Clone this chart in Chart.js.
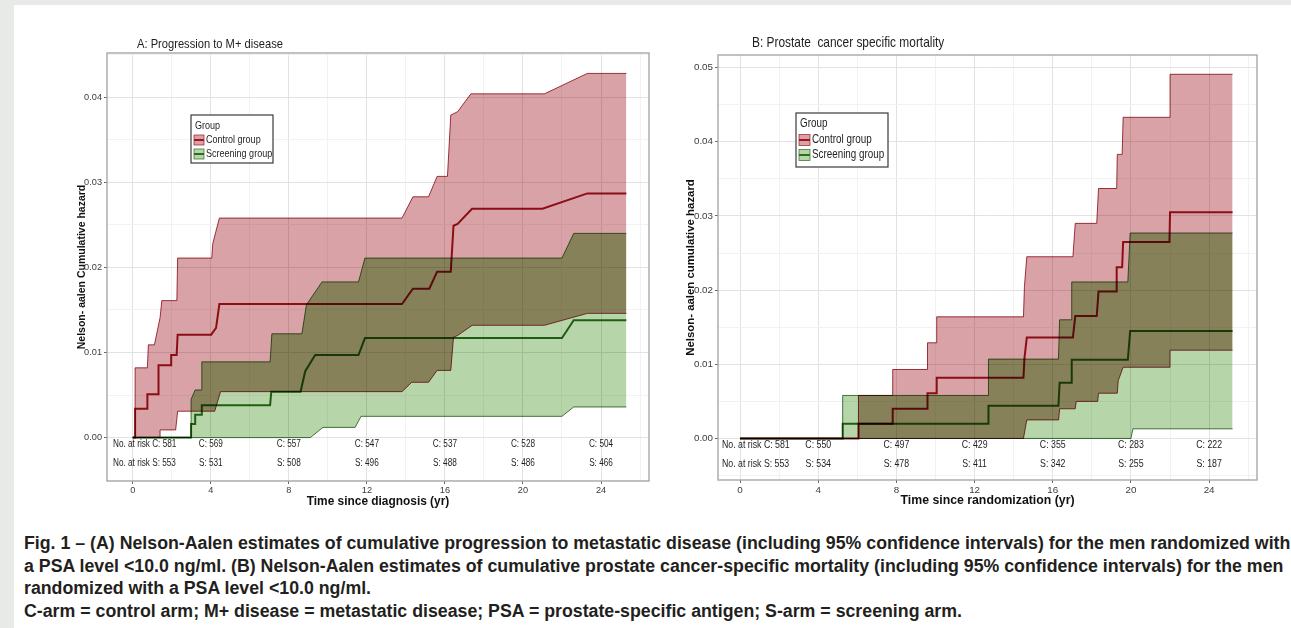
<!DOCTYPE html>
<html>
<head>
<meta charset="utf-8">
<script src="https://cdn.jsdelivr.net/npm/chart.js@4.4.1/dist/chart.umd.min.js"></script>
<style>
  html, body { margin: 0; padding: 0; }
  body { width: 1291px; height: 628px; background: #e8eae8; overflow: hidden; position: relative; }
  #card { position: absolute; left: 14px; top: 5px; right: 0; bottom: 0; background: #fff; }
  canvas { position: absolute; }
  #chartA { left: 20px; top: 20px; }
  #chartB { left: 660px; top: 20px; }
  #caption { position: absolute; left: 24px; top: 532px; white-space: nowrap; transform-origin: 0 0;
    font-family: "Liberation Sans", sans-serif; font-weight: bold;
    color: #231f20; line-height: 22.7px; font-size: 17.5px; }
</style>
</head>
<body>
<div id="card"></div>
<canvas id="chartA" width="640" height="500"></canvas>
<canvas id="chartB" width="620" height="500"></canvas>
<div id="caption">
  <div>Fig. 1 – (A) Nelson-Aalen estimates of cumulative progression to metastatic disease (including 95% confidence intervals) for the men randomized with</div>
  <div id="capRef">a PSA level &lt;10.0 ng/ml. (B) Nelson-Aalen estimates of cumulative prostate cancer-specific mortality (including 95% confidence intervals) for the men</div>
  <div>randomized with a PSA level &lt;10.0 ng/ml.</div>
  <div>C-arm = control arm; M+ disease = metastatic disease; PSA = prostate-specific antigen; S-arm = screening arm.</div>
</div>
<script>
const groups = ['Control group', 'Screening group'];

// x axis (years), labelled every 4, light grid every 2
const xMajor = [0, 4, 8, 12, 16, 20, 24];
const xMinor = [2, 6, 10, 14, 18, 22, 26];
const yMajorA = [0, 0.01, 0.02, 0.03, 0.04];
const yMinorA = [-0.005, 0.005, 0.015, 0.025, 0.035, 0.045];
const yMajorB = [0, 0.01, 0.02, 0.03, 0.04, 0.05];
const yMinorB = [-0.005, 0.005, 0.015, 0.025, 0.035, 0.045];

// numbers at risk
const riskTimes = [0, 4, 8, 12, 16, 20, 24];
const riskCtlA = [581, 569, 557, 547, 537, 528, 504];
const riskScrA = [553, 531, 508, 496, 488, 486, 466];
const riskCtlB = [581, 550, 497, 429, 355, 283, 222];
const riskScrB = [553, 534, 478, 411, 342, 255, 187];

// A: progression to M+ disease, [years, cumulative hazard]
const aCtlEst = [[0,0],[0.12,0],[0.12,0.0034],[0.75,0.0034],[0.75,0.0051],[1.32,0.0051],[1.32,0.0085],[1.97,0.0085],
  [1.97,0.0097],[2.25,0.0097],[2.3,0.0121],[4.02,0.0121],[4.27,0.0129],[4.44,0.0157],[13.8,0.0157],[14.36,0.0175],
  [15.2,0.0175],[15.6,0.0195],[16.3,0.0195],[16.44,0.0249],[16.65,0.0251],[17.39,0.0269],[21.0,0.0269],[23.3,0.0287],[25.3,0.0287]];
const aCtlUp = [[0,0],[0.12,0],[0.12,0.0082],[0.75,0.0082],[0.8,0.0109],[1.11,0.0109],[1.4,0.0141],[1.49,0.0161],
  [2.26,0.0161],[2.3,0.0211],[4.05,0.0211],[4.1,0.0228],[4.44,0.0258],[13.8,0.0258],[14.36,0.0283],[15.16,0.0283],
  [15.6,0.0307],[16.13,0.0307],[16.3,0.0379],[16.65,0.0383],[17.33,0.0404],[21.1,0.0404],[23.3,0.0428],[25.3,0.0428]];
const aCtlLow = [[0,0],[1.4,0],[1.4,0.0009],[2.2,0.0009],[2.3,0.0031],[4.2,0.0031],[4.5,0.0054],[13.8,0.0054],
  [14.3,0.0065],[15.16,0.0065],[15.6,0.0079],[16.3,0.0079],[16.44,0.0118],[16.65,0.0120],[17.4,0.0132],[21.1,0.0132],
  [23.3,0.0146],[25.3,0.0146]];
const aScrEst = [[0,0],[2.99,0],[2.99,0.0016],[3.2,0.0016],[3.2,0.0027],[3.54,0.0027],[3.54,0.0038],[7.04,0.0038],
  [7.1,0.0054],[8.6,0.0054],[8.84,0.0078],[9.35,0.0097],[11.57,0.0097],[11.9,0.0117],[22.0,0.0117],[22.6,0.0138],[25.3,0.0138]];
const aScrUp = [[0,0],[2.99,0],[2.99,0.0045],[3.2,0.0056],[3.54,0.0056],[3.54,0.0089],[7.04,0.0089],[7.13,0.0122],
  [8.67,0.0122],[8.9,0.0156],[9.7,0.0183],[11.57,0.0183],[11.9,0.0211],[22.0,0.0211],[22.6,0.0240],[25.3,0.0240]];
const aScrLow = [[0,0],[9.1,0],[9.75,0.0012],[11.4,0.0012],[11.7,0.0025],[22.0,0.0025],[22.6,0.0036],[25.3,0.0036]];

// B: prostate cancer specific mortality
const bCtlEst = [[0,0],[6.06,0],[6.06,0.0020],[7.81,0.0020],[7.81,0.0040],[9.59,0.0040],[9.59,0.0061],[10.06,0.0061],
  [10.06,0.0082],[14.5,0.0082],[14.55,0.0108],[14.67,0.0136],[17.03,0.0136],[17.15,0.0165],[18.25,0.0165],[18.34,0.0198],
  [19.27,0.0198],[19.27,0.0231],[19.55,0.0231],[19.6,0.0265],[21.97,0.0265],[22.0,0.0305],[25.2,0.0305]];
const bCtlUp = [[0,0],[6.06,0],[6.06,0.0058],[7.81,0.0058],[7.81,0.0093],[9.59,0.0093],[9.59,0.0129],[10.06,0.0129],
  [10.06,0.0164],[14.5,0.0164],[14.55,0.0205],[14.67,0.0245],[17.03,0.0245],[17.15,0.0290],[18.25,0.0290],[18.34,0.0337],
  [19.27,0.0337],[19.3,0.0383],[19.55,0.0383],[19.6,0.0433],[22.0,0.0433],[22.0,0.0491],[25.2,0.0491]];
const bCtlLow = [[0,0],[14.5,0],[14.67,0.0025],[16.3,0.0025],[16.35,0.0040],[17.15,0.0040],[17.2,0.0050],[18.3,0.0050],
  [18.34,0.0061],[19.3,0.0061],[19.35,0.0078],[19.6,0.0096],[22.0,0.0096],[22.0,0.0119],[25.2,0.0119]];
const bScrEst = [[0,0],[5.25,0],[5.25,0.0020],[12.71,0.0020],[12.71,0.0044],[16.29,0.0044],[16.35,0.0075],[16.97,0.0075],
  [16.97,0.0106],[19.84,0.0106],[19.96,0.0145],[25.2,0.0145]];
const bScrUp = [[0,0],[5.25,0],[5.25,0.0058],[12.71,0.0058],[12.71,0.0107],[16.29,0.0107],[16.35,0.0160],[16.97,0.0160],
  [16.97,0.0211],[19.84,0.0211],[19.96,0.0277],[25.2,0.0277]];
const bScrLow = [[0,0],[20.0,0],[20.1,0.0013],[25.2,0.0013]];

const SANS = '"Liberation Sans", Arial, sans-serif';
const PINK = 'rgb(217,162,166)';
const LIGHTGREEN = 'rgb(182,214,170)';
const OVERLAP_TINT = 'rgb(222,242,206)';
const RED_EDGE = 'rgba(150,25,35,0.85)';
const GREEN_EDGE = 'rgba(45,100,30,0.85)';
const RED = 'rgb(165,20,30)';
const GREEN = 'rgb(45,110,25)';

const xy = pairs => pairs.map(([x, y]) => ({ x, y }));

function bands(ctlUp, ctlLow, ctlEst, scrUp, scrLow, scrEst) {
  return [
    { data: xy(ctlUp), fill: { target: 1 }, backgroundColor: PINK, borderColor: RED_EDGE, borderWidth: 1, order: 3 },
    { data: xy(ctlLow), fill: false, borderColor: RED_EDGE, borderWidth: 1, order: 3 },
    { data: xy(scrUp), fill: { target: 3 }, backgroundColor: LIGHTGREEN, borderColor: GREEN_EDGE, borderWidth: 1, order: 3 },
    { data: xy(scrLow), fill: false, borderColor: GREEN_EDGE, borderWidth: 1, order: 3 },
    { label: groups[0], data: xy(ctlEst), fill: false, borderColor: RED, borderWidth: 2, order: 1 },
    { label: groups[1], data: xy(scrEst), fill: false, borderColor: GREEN, borderWidth: 2, order: 1 }
  ];
}

// narrow text, like the condensed face of the original figure
function narrow(ctx, text, x, y, align) {
  ctx.save();
  ctx.translate(x, y);
  ctx.scale(0.82, 1);
  ctx.textAlign = align;
  ctx.fillText(text, 0, 0);
  ctx.restore();
}

// closed path around a ribbon, from the points the line elements were given
function ribbonPath(ctx, chart, upIdx, lowIdx) {
  const up = chart.getDatasetMeta(upIdx).data;
  const low = chart.getDatasetMeta(lowIdx).data;
  ctx.beginPath();
  up.forEach((p, i) => (i ? ctx.lineTo(p.x, p.y) : ctx.moveTo(p.x, p.y)));
  for (let i = low.length - 1; i >= 0; i--) ctx.lineTo(low[i].x, low[i].y);
  ctx.closePath();
}

const panelDecor = {
  id: 'panelDecor',
  beforeDraw(chart) {
    const ctx = chart.ctx;
    ctx.save();
    ctx.fillStyle = '#fff';
    ctx.fillRect(0, 0, chart.width, chart.height);
    ctx.restore();
  },
  beforeDatasetsDraw(chart) {
    chart.ctx.save();
    chart.ctx.globalCompositeOperation = 'multiply';
  },
  afterDatasetsDraw(chart) {
    const { ctx, chartArea: a } = chart;
    // the two ribbons overlap in a darker olive tone
    ctx.save();
    ctx.beginPath();
    ctx.rect(a.left, a.top, a.right - a.left, a.bottom - a.top);
    ctx.clip();
    ribbonPath(ctx, chart, 0, 1);
    ctx.clip();
    ribbonPath(ctx, chart, 2, 3);
    ctx.fillStyle = OVERLAP_TINT;
    ctx.fill();
    ctx.restore();
    ctx.restore();
  },
  afterDraw(chart, args, o) {
    const { ctx, chartArea: a, scales: { x, y } } = chart;
    ctx.save();
    ctx.strokeStyle = '#a8a8a8';
    ctx.lineWidth = 1.4;
    ctx.strokeRect(a.left, a.top, a.right - a.left, a.bottom - a.top);

    ctx.fillStyle = '#1e1e1e';
    ctx.textBaseline = 'middle';
    ctx.font = `${o.titleSize}px ${SANS}`;
    narrow(ctx, o.title, a.left + o.titleDx, a.top + o.titleDy, 'left');

    ctx.font = `${o.fontSize}px ${SANS}`;
    const y0 = y.getPixelForValue(0);
    riskTimes.forEach((t, i) => {
      if (i === 0) {
        narrow(ctx, `No. at risk C: ${o.riskC[i]}`, a.left + o.riskDx, y0 + 7, 'left');
        narrow(ctx, `No. at risk S: ${o.riskS[i]}`, a.left + o.riskDx, y0 + 25.5, 'left');
      } else {
        narrow(ctx, `C: ${o.riskC[i]}`, x.getPixelForValue(t), y0 + 7, 'center');
        narrow(ctx, `S: ${o.riskS[i]}`, x.getPixelForValue(t), y0 + 25.5, 'center');
      }
    });

    // legend
    const L = a.left + o.legDx, T = a.top + o.legDy, W = o.legW, H = o.legH;
    ctx.fillStyle = '#fff';
    ctx.fillRect(L, T, W, H);
    ctx.strokeStyle = '#3a3a3a';
    ctx.lineWidth = 1.2;
    ctx.strokeRect(L, T, W, H);
    ctx.font = `${o.legSize}px ${SANS}`;
    ctx.fillStyle = '#1e1e1e';
    narrow(ctx, 'Group', L + 4, T + o.rowY[0], 'left');
    const keys = [[PINK, RED_EDGE, RED], [LIGHTGREEN, GREEN_EDGE, GREEN]];
    keys.forEach(([fillC, edgeC, lineC], i) => {
      const cy = T + o.rowY[i + 1];
      const k = o.key;
      ctx.fillStyle = fillC;
      ctx.fillRect(L + 3, cy - k / 2, k, k);
      ctx.strokeStyle = edgeC;
      ctx.lineWidth = 0.8;
      ctx.strokeRect(L + 3, cy - k / 2, k, k);
      ctx.strokeStyle = lineC;
      ctx.lineWidth = 2;
      ctx.beginPath();
      ctx.moveTo(L + 3, cy);
      ctx.lineTo(L + 3 + k, cy);
      ctx.stroke();
      ctx.fillStyle = '#1e1e1e';
      narrow(ctx, groups[i], L + 5 + k, cy, 'left');
    });
    ctx.restore();
  }
};

function panel(id, d, cfg) {
  const majorX = v => xMajor.includes(v);
  const majorY = v => cfg.yMajor.some(m => Math.abs(m - v) < 1e-9);
  return new Chart(document.getElementById(id), {
    type: 'line',
    data: { datasets: d },
    options: {
      responsive: false,
      animation: false,
      devicePixelRatio: 1,
      layout: { padding: cfg.padding },
      elements: { point: { radius: 0 }, line: { tension: 0 } },
      plugins: {
        legend: { display: false },
        tooltip: { enabled: false },
        panelDecor: cfg.decor
      },
      scales: {
        x: {
          type: 'linear', min: cfg.xMin, max: cfg.xMax,
          afterBuildTicks: s => { s.ticks = xMajor.concat(xMinor).sort((p, q) => p - q).map(v => ({ value: v })); },
          afterFit: s => { s.height = 30; },
          ticks: { autoSkip: false, maxRotation: 0, padding: 1, color: '#3c3c3c',
            font: { family: SANS, size: cfg.tickSize },
            callback: v => majorX(v) ? String(v) : '' },
          grid: { color: c => majorX(c.tick.value) ? '#e2e2e2' : '#f2f2f2', lineWidth: 1, tickLength: 3,
            tickColor: c => majorX(c.tick.value) ? '#666' : 'rgba(0,0,0,0)' },
          border: { display: false },
          title: { display: true, text: cfg.xTitle, color: '#111', padding: { top: 0, bottom: 2 },
            font: { family: SANS, weight: 'bold', size: cfg.xTitleSize } }
        },
        y: {
          type: 'linear', min: cfg.yMin, max: cfg.yMax,
          afterBuildTicks: s => { s.ticks = cfg.yMajor.concat(cfg.yMinor).sort((p, q) => p - q).map(v => ({ value: v })); },
          afterFit: s => { s.width = cfg.yWidth; },
          ticks: { autoSkip: false, padding: 2, color: '#3c3c3c',
            font: { family: SANS, size: cfg.tickSize },
            callback: v => majorY(v) ? v.toFixed(2) : '' },
          grid: { color: c => majorY(c.tick.value) ? '#e2e2e2' : '#f2f2f2', lineWidth: 1, tickLength: 3,
            tickColor: c => majorY(c.tick.value) ? '#666' : 'rgba(0,0,0,0)' },
          border: { display: false },
          title: { display: true, text: cfg.yTitle, color: '#111', padding: { top: 0, bottom: 0 },
            font: { family: SANS, weight: 'bold', size: cfg.yTitleSize } }
        }
      }
    },
    plugins: [panelDecor]
  });
}

panel('chartA', bands(aCtlUp, aCtlLow, aCtlEst, aScrUp, aScrLow, aScrEst), {
  padding: { left: 56, top: 33, right: 11, bottom: 9 }, yWidth: 31,
  xMin: -1.32, xMax: 26.46, yMin: -0.0051, yMax: 0.0452,
  yMajor: yMajorA, yMinor: yMinorA, tickSize: 9.2, xTitleSize: 11.9, yTitleSize: 10.5,
  xTitle: 'Time since diagnosis (yr)', yTitle: 'Nelson- aalen Cumulative hazard',
  decor: { title: 'A: Progression to M+ disease', titleSize: 13.6, titleDx: 30, titleDy: -9,
    fontSize: 10, riskC: riskCtlA, riskS: riskScrA, riskDx: 6,
    legDx: 84, legDy: 62, legW: 82, legH: 48, legSize: 11, rowY: [11, 25, 39], key: 10 }
});

panel('chartB', bands(bCtlUp, bCtlLow, bCtlEst, bScrUp, bScrLow, bScrEst), {
  padding: { left: 24, top: 35, right: 23, bottom: 10 }, yWidth: 34,
  xMin: -1.13, xMax: 26.45, yMin: -0.0056, yMax: 0.0517,
  yMajor: yMajorB, yMinor: yMinorB, tickSize: 9.8, xTitleSize: 12.3, yTitleSize: 11.4,
  xTitle: 'Time since randomization (yr)', yTitle: 'Nelson- aalen cumulative hazard',
  decor: { title: 'B: Prostate  cancer specific mortality', titleSize: 14.5, titleDx: 34, titleDy: -12,
    fontSize: 10.7, riskC: riskCtlB, riskS: riskScrB, riskDx: 4,
    legDx: 78, legDy: 58, legW: 92, legH: 54, legSize: 12, rowY: [11, 27, 42], key: 11 }
});

// squeeze the caption horizontally so its second line spans the figure width
(function fitCaption() {
  const cap = document.getElementById('caption');
  const c = document.createElement('canvas').getContext('2d');
  c.font = `bold 17.5px ${SANS}`;
  const w = c.measureText(document.getElementById('capRef').textContent).width;
  cap.style.transform = `scaleX(${(1260 / w).toFixed(4)})`;
})();
</script>
</body>
</html>
